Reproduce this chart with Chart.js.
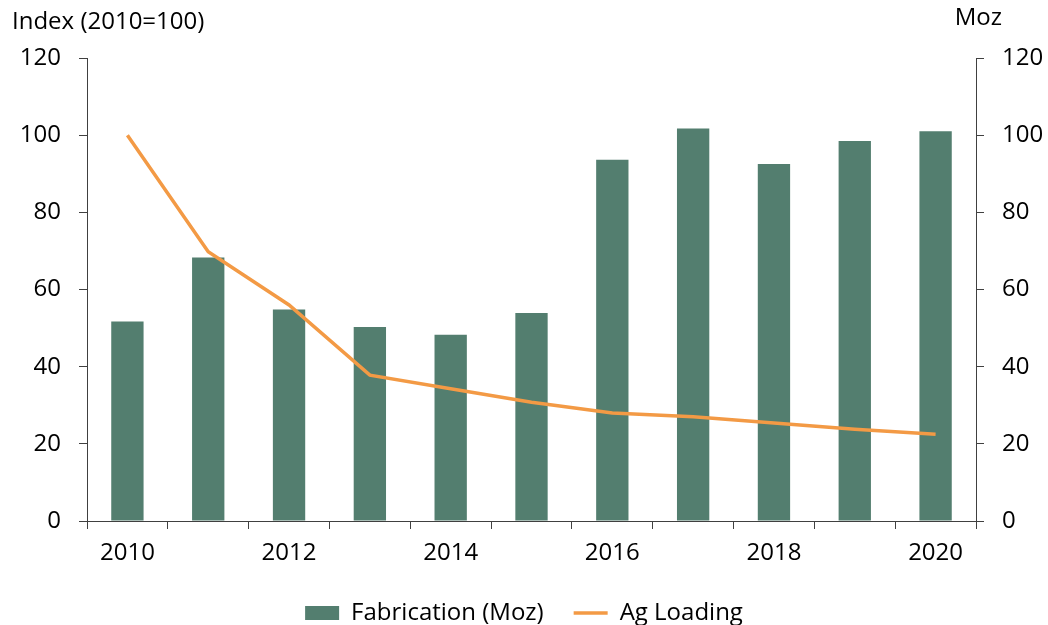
<!DOCTYPE html>
<html>
<head>
<meta charset="utf-8">
<script src="https://cdn.jsdelivr.net/npm/chart.js@4"></script>
<style>
  html, body { margin: 0; padding: 0; background: #fff; }
</style>
</head>
<body>
<canvas id="myChart" width="1048" height="625"></canvas>
<script>
const years = ['2010', '2011', '2012', '2013', '2014', '2015', '2016', '2017', '2018', '2019', '2020'];
const fabricationMoz = [51.7, 68.3, 54.8, 50.3, 48.3, 53.9, 93.6, 101.7, 92.5, 98.5, 101.0];
const agLoadingIndex = [100, 69.8, 56, 37.8, 34.3, 30.8, 28, 27, 25.4, 23.8, 22.5];
const yTicks = [0, 20, 40, 60, 80, 100, 120];

const FONT = '"Open Sans", Lato, sans-serif';
const FS = 24;

// axis titles sit above the plot, not rotated
const axisTitles = {
    id: 'axisTitles',
    afterDraw(chart) {
        const c = chart.ctx;
        c.save();
        c.fillStyle = '#000';
        c.font = FS + 'px ' + FONT;
        c.textBaseline = 'middle';
        c.textAlign = 'left';
        c.fillText('Index (2010=100)', 12, 22);
        c.textAlign = 'right';
        c.fillText('Moz', 1002, 18);
        c.restore();
    }
};

document.addEventListener('DOMContentLoaded', function() {
    const ctx = document.getElementById('myChart').getContext('2d');

    const axisLine = {
        display: true,
        color: '#404040',
        width: 1
    };

    new Chart(ctx, {
        type: 'bar',
        data: {
            labels: years,
            datasets: [
                {
                    type: 'bar',
                    label: 'Fabrication (Moz)',
                    data: fabricationMoz,
                    backgroundColor: '#537e6f',
                    borderWidth: 0,
                    categoryPercentage: 1,
                    barPercentage: 0.4,
                    yAxisID: 'yRight',
                    pointStyle: 'rect',
                    order: 1
                },
                {
                    type: 'line',
                    label: 'Ag Loading',
                    data: agLoadingIndex,
                    borderColor: '#f39a45',
                    backgroundColor: '#f39a45',
                    borderWidth: 3.5,
                    pointRadius: 0,
                    tension: 0,
                    yAxisID: 'yLeft',
                    pointStyle: 'line',
                    order: 0
                }
            ]
        },
        options: {
            responsive: false,
            animation: false,
            layout: {
                padding: { top: 58, left: 0, right: 0, bottom: -10 }
            },
            plugins: {
                tooltip: { enabled: false },
                legend: {
                    position: 'bottom',
                    labels: {
                        color: '#000',
                        font: { family: FONT, size: FS },
                        usePointStyle: true,
                        pointStyleWidth: 34,
                        boxHeight: 14,
                        padding: 30,
                        sort: (a, b) => a.datasetIndex - b.datasetIndex
                    }
                }
            },
            scales: {
                x: {
                    grid: {
                        offset: true,
                        drawOnChartArea: false,
                        drawTicks: true,
                        tickLength: 8,
                        color: '#404040'
                    },
                    border: axisLine,
                    ticks: {
                        autoSkip: false,
                        maxRotation: 0,
                        padding: 10,
                        color: '#000',
                        font: { family: FONT, size: FS },
                        callback: function(value, index) {
                            return index % 2 === 0 ? this.getLabelForValue(value) : '';
                        }
                    },
                    afterFit(scale) { scale.height = 50; }
                },
                yLeft: {
                    position: 'left',
                    min: 0,
                    max: 120,
                    afterBuildTicks(scale) { scale.ticks = yTicks.map(v => ({ value: v })); },
                    grid: {
                        drawOnChartArea: false,
                        drawTicks: true,
                        tickLength: 8,
                        color: '#404040'
                    },
                    border: axisLine,
                    ticks: {
                        padding: 18,
                        color: '#000',
                        font: { family: FONT, size: FS }
                    },
                    afterFit(scale) { scale.width = 87; }
                },
                yRight: {
                    position: 'right',
                    min: 0,
                    max: 120,
                    afterBuildTicks(scale) { scale.ticks = yTicks.map(v => ({ value: v })); },
                    grid: {
                        drawOnChartArea: false,
                        drawTicks: true,
                        tickLength: 8,
                        color: '#404040'
                    },
                    border: axisLine,
                    ticks: {
                        padding: 18,
                        color: '#000',
                        font: { family: FONT, size: FS }
                    },
                    afterFit(scale) { scale.width = 72; }
                }
            }
        },
        plugins: [axisTitles]
    });
});
</script>
</body>
</html>
